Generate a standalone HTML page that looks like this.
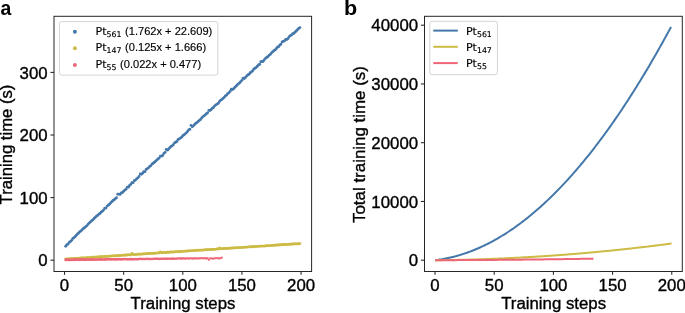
<!DOCTYPE html>
<html><head><meta charset="utf-8"><title>Training time</title>
<style>html,body{margin:0;padding:0;background:#fff;}svg{display:block;}</style>
</head><body>
<svg width="685" height="313" viewBox="0 0 685 313">
<rect width="685" height="313" fill="#fff"/>
<text x="0.6" y="14.6" font-family="Liberation Sans, Arial, Helvetica, sans-serif" font-size="19.4" font-weight="bold" fill="#000">a</text>
<text transform="translate(344,14.6) scale(1.08,1)" font-family="Liberation Sans, Arial, Helvetica, sans-serif" font-size="20" font-weight="bold" fill="#000">b</text>
<g fill="#4477AA"><circle cx="65.71" cy="246.22" r="1.42"/><circle cx="66.89" cy="244.69" r="1.42"/><circle cx="68.07" cy="244.10" r="1.42"/><circle cx="69.26" cy="242.36" r="1.42"/><circle cx="70.44" cy="241.51" r="1.42"/><circle cx="71.62" cy="240.30" r="1.42"/><circle cx="72.81" cy="238.49" r="1.42"/><circle cx="73.99" cy="237.78" r="1.42"/><circle cx="75.17" cy="236.63" r="1.42"/><circle cx="76.35" cy="235.21" r="1.42"/><circle cx="77.54" cy="233.90" r="1.42"/><circle cx="78.72" cy="233.02" r="1.42"/><circle cx="79.90" cy="231.64" r="1.42"/><circle cx="81.08" cy="230.88" r="1.42"/><circle cx="82.27" cy="229.60" r="1.42"/><circle cx="83.45" cy="228.52" r="1.42"/><circle cx="84.63" cy="227.67" r="1.42"/><circle cx="85.82" cy="226.62" r="1.42"/><circle cx="87.00" cy="225.55" r="1.42"/><circle cx="88.18" cy="224.05" r="1.42"/><circle cx="89.36" cy="222.93" r="1.42"/><circle cx="90.55" cy="221.87" r="1.42"/><circle cx="91.73" cy="220.66" r="1.42"/><circle cx="92.91" cy="219.95" r="1.42"/><circle cx="94.09" cy="218.49" r="1.42"/><circle cx="95.28" cy="217.30" r="1.42"/><circle cx="96.46" cy="216.05" r="1.42"/><circle cx="97.64" cy="215.40" r="1.42"/><circle cx="98.83" cy="214.17" r="1.42"/><circle cx="100.01" cy="213.52" r="1.42"/><circle cx="101.19" cy="212.00" r="1.42"/><circle cx="102.37" cy="211.37" r="1.42"/><circle cx="103.56" cy="210.05" r="1.42"/><circle cx="104.74" cy="208.23" r="1.42"/><circle cx="105.92" cy="208.06" r="1.42"/><circle cx="107.10" cy="206.11" r="1.42"/><circle cx="108.29" cy="205.14" r="1.42"/><circle cx="109.47" cy="204.22" r="1.42"/><circle cx="110.65" cy="202.90" r="1.42"/><circle cx="111.84" cy="201.78" r="1.42"/><circle cx="113.02" cy="200.53" r="1.42"/><circle cx="114.20" cy="199.79" r="1.42"/><circle cx="115.38" cy="198.78" r="1.42"/><circle cx="116.57" cy="197.68" r="1.42"/><circle cx="117.75" cy="194.19" r="1.42"/><circle cx="118.93" cy="194.07" r="1.42"/><circle cx="120.11" cy="194.43" r="1.42"/><circle cx="121.30" cy="192.80" r="1.42"/><circle cx="122.48" cy="192.53" r="1.42"/><circle cx="123.66" cy="191.20" r="1.42"/><circle cx="124.85" cy="190.06" r="1.42"/><circle cx="126.03" cy="189.28" r="1.42"/><circle cx="127.21" cy="187.05" r="1.42"/><circle cx="128.39" cy="187.16" r="1.42"/><circle cx="129.58" cy="185.46" r="1.42"/><circle cx="130.76" cy="184.43" r="1.42"/><circle cx="131.94" cy="182.71" r="1.42"/><circle cx="133.13" cy="182.63" r="1.42"/><circle cx="134.31" cy="180.67" r="1.42"/><circle cx="135.49" cy="180.07" r="1.42"/><circle cx="136.67" cy="178.81" r="1.42"/><circle cx="137.86" cy="177.85" r="1.42"/><circle cx="139.04" cy="176.38" r="1.42"/><circle cx="140.22" cy="173.90" r="1.42"/><circle cx="141.40" cy="174.37" r="1.42"/><circle cx="142.59" cy="173.15" r="1.42"/><circle cx="143.77" cy="171.63" r="1.42"/><circle cx="144.95" cy="171.72" r="1.42"/><circle cx="146.14" cy="169.51" r="1.42"/><circle cx="147.32" cy="168.57" r="1.42"/><circle cx="148.50" cy="167.87" r="1.42"/><circle cx="149.68" cy="166.54" r="1.42"/><circle cx="150.87" cy="165.66" r="1.42"/><circle cx="152.05" cy="163.96" r="1.42"/><circle cx="153.23" cy="163.26" r="1.42"/><circle cx="154.41" cy="162.28" r="1.42"/><circle cx="155.60" cy="161.18" r="1.42"/><circle cx="156.78" cy="160.07" r="1.42"/><circle cx="157.96" cy="158.96" r="1.42"/><circle cx="159.15" cy="158.05" r="1.42"/><circle cx="160.33" cy="156.12" r="1.42"/><circle cx="161.51" cy="156.14" r="1.42"/><circle cx="162.69" cy="155.51" r="1.42"/><circle cx="163.88" cy="153.43" r="1.42"/><circle cx="165.06" cy="152.33" r="1.42"/><circle cx="166.24" cy="149.52" r="1.42"/><circle cx="167.42" cy="150.14" r="1.42"/><circle cx="168.61" cy="149.02" r="1.42"/><circle cx="169.79" cy="147.79" r="1.42"/><circle cx="170.97" cy="146.50" r="1.42"/><circle cx="172.16" cy="145.80" r="1.42"/><circle cx="173.34" cy="144.67" r="1.42"/><circle cx="174.52" cy="142.92" r="1.42"/><circle cx="175.70" cy="142.21" r="1.42"/><circle cx="176.89" cy="141.54" r="1.42"/><circle cx="178.07" cy="139.50" r="1.42"/><circle cx="179.25" cy="138.84" r="1.42"/><circle cx="180.43" cy="138.12" r="1.42"/><circle cx="181.62" cy="137.18" r="1.42"/><circle cx="182.80" cy="135.66" r="1.42"/><circle cx="183.98" cy="134.88" r="1.42"/><circle cx="185.17" cy="133.84" r="1.42"/><circle cx="186.35" cy="132.80" r="1.42"/><circle cx="187.53" cy="131.48" r="1.42"/><circle cx="188.71" cy="129.92" r="1.42"/><circle cx="189.90" cy="129.25" r="1.42"/><circle cx="191.08" cy="125.30" r="1.42"/><circle cx="192.26" cy="126.73" r="1.42"/><circle cx="193.44" cy="125.80" r="1.42"/><circle cx="194.63" cy="124.48" r="1.42"/><circle cx="195.81" cy="123.27" r="1.42"/><circle cx="196.99" cy="122.56" r="1.42"/><circle cx="198.18" cy="121.45" r="1.42"/><circle cx="199.36" cy="120.32" r="1.42"/><circle cx="200.54" cy="119.52" r="1.42"/><circle cx="201.72" cy="117.91" r="1.42"/><circle cx="202.91" cy="116.61" r="1.42"/><circle cx="204.09" cy="115.84" r="1.42"/><circle cx="205.27" cy="114.86" r="1.42"/><circle cx="206.45" cy="113.76" r="1.42"/><circle cx="207.64" cy="112.80" r="1.42"/><circle cx="208.82" cy="110.45" r="1.42"/><circle cx="210.00" cy="110.49" r="1.42"/><circle cx="211.19" cy="109.51" r="1.42"/><circle cx="212.37" cy="108.29" r="1.42"/><circle cx="213.55" cy="107.51" r="1.42"/><circle cx="214.73" cy="105.87" r="1.42"/><circle cx="215.92" cy="104.85" r="1.42"/><circle cx="217.10" cy="104.08" r="1.42"/><circle cx="218.28" cy="103.30" r="1.42"/><circle cx="219.46" cy="101.55" r="1.42"/><circle cx="220.65" cy="100.14" r="1.42"/><circle cx="221.83" cy="99.55" r="1.42"/><circle cx="223.01" cy="98.38" r="1.42"/><circle cx="224.20" cy="97.30" r="1.42"/><circle cx="225.38" cy="95.85" r="1.42"/><circle cx="226.56" cy="95.19" r="1.42"/><circle cx="227.74" cy="93.55" r="1.42"/><circle cx="228.93" cy="92.81" r="1.42"/><circle cx="230.11" cy="91.36" r="1.42"/><circle cx="231.29" cy="89.26" r="1.42"/><circle cx="232.47" cy="89.48" r="1.42"/><circle cx="233.66" cy="88.73" r="1.42"/><circle cx="234.84" cy="87.41" r="1.42"/><circle cx="236.02" cy="86.18" r="1.42"/><circle cx="237.21" cy="84.82" r="1.42"/><circle cx="238.39" cy="83.83" r="1.42"/><circle cx="239.57" cy="83.00" r="1.42"/><circle cx="240.75" cy="81.58" r="1.42"/><circle cx="241.94" cy="80.32" r="1.42"/><circle cx="243.12" cy="78.28" r="1.42"/><circle cx="244.30" cy="78.51" r="1.42"/><circle cx="245.49" cy="77.40" r="1.42"/><circle cx="246.67" cy="75.95" r="1.42"/><circle cx="247.85" cy="74.93" r="1.42"/><circle cx="249.03" cy="74.24" r="1.42"/><circle cx="250.22" cy="72.77" r="1.42"/><circle cx="251.40" cy="71.91" r="1.42"/><circle cx="252.58" cy="70.88" r="1.42"/><circle cx="253.76" cy="69.22" r="1.42"/><circle cx="254.95" cy="68.23" r="1.42"/><circle cx="256.13" cy="67.56" r="1.42"/><circle cx="257.31" cy="66.23" r="1.42"/><circle cx="258.50" cy="65.01" r="1.42"/><circle cx="259.68" cy="64.23" r="1.42"/><circle cx="260.86" cy="61.73" r="1.42"/><circle cx="262.04" cy="61.66" r="1.42"/><circle cx="263.23" cy="61.24" r="1.42"/><circle cx="264.41" cy="59.55" r="1.42"/><circle cx="265.59" cy="58.33" r="1.42"/><circle cx="266.77" cy="57.29" r="1.42"/><circle cx="267.96" cy="56.71" r="1.42"/><circle cx="269.14" cy="55.14" r="1.42"/><circle cx="270.32" cy="54.37" r="1.42"/><circle cx="271.51" cy="52.86" r="1.42"/><circle cx="272.69" cy="51.75" r="1.42"/><circle cx="273.87" cy="50.75" r="1.42"/><circle cx="275.05" cy="49.93" r="1.42"/><circle cx="276.24" cy="48.77" r="1.42"/><circle cx="277.42" cy="47.26" r="1.42"/><circle cx="278.60" cy="46.65" r="1.42"/><circle cx="279.78" cy="45.16" r="1.42"/><circle cx="280.97" cy="44.05" r="1.42"/><circle cx="282.15" cy="41.92" r="1.42"/><circle cx="283.33" cy="41.31" r="1.42"/><circle cx="284.52" cy="40.94" r="1.42"/><circle cx="285.70" cy="39.33" r="1.42"/><circle cx="286.88" cy="39.47" r="1.42"/><circle cx="288.06" cy="38.51" r="1.42"/><circle cx="289.25" cy="36.57" r="1.42"/><circle cx="290.43" cy="35.64" r="1.42"/><circle cx="291.61" cy="34.88" r="1.42"/><circle cx="292.79" cy="33.78" r="1.42"/><circle cx="293.98" cy="33.27" r="1.42"/><circle cx="295.16" cy="31.89" r="1.42"/><circle cx="296.34" cy="30.97" r="1.42"/><circle cx="297.53" cy="29.72" r="1.42"/><circle cx="298.71" cy="28.38" r="1.42"/><circle cx="299.89" cy="27.58" r="1.42"/></g>
<g fill="#CCBB44"><circle cx="65.71" cy="259.06" r="1.42"/><circle cx="66.89" cy="259.04" r="1.42"/><circle cx="68.07" cy="258.95" r="1.42"/><circle cx="69.26" cy="258.84" r="1.42"/><circle cx="70.44" cy="258.78" r="1.42"/><circle cx="71.62" cy="258.61" r="1.42"/><circle cx="72.81" cy="258.66" r="1.42"/><circle cx="73.99" cy="258.41" r="1.42"/><circle cx="75.17" cy="258.51" r="1.42"/><circle cx="76.35" cy="258.31" r="1.42"/><circle cx="77.54" cy="258.34" r="1.42"/><circle cx="78.72" cy="258.11" r="1.42"/><circle cx="79.90" cy="258.13" r="1.42"/><circle cx="81.08" cy="258.04" r="1.42"/><circle cx="82.27" cy="257.94" r="1.42"/><circle cx="83.45" cy="257.94" r="1.42"/><circle cx="84.63" cy="257.89" r="1.42"/><circle cx="85.82" cy="257.88" r="1.42"/><circle cx="87.00" cy="257.59" r="1.42"/><circle cx="88.18" cy="257.64" r="1.42"/><circle cx="89.36" cy="257.55" r="1.42"/><circle cx="90.55" cy="257.44" r="1.42"/><circle cx="91.73" cy="257.23" r="1.42"/><circle cx="92.91" cy="257.39" r="1.42"/><circle cx="94.09" cy="257.19" r="1.42"/><circle cx="95.28" cy="257.15" r="1.42"/><circle cx="96.46" cy="257.01" r="1.42"/><circle cx="97.64" cy="257.08" r="1.42"/><circle cx="98.83" cy="256.91" r="1.42"/><circle cx="100.01" cy="256.76" r="1.42"/><circle cx="101.19" cy="256.63" r="1.42"/><circle cx="102.37" cy="256.55" r="1.42"/><circle cx="103.56" cy="256.63" r="1.42"/><circle cx="104.74" cy="256.49" r="1.42"/><circle cx="105.92" cy="256.43" r="1.42"/><circle cx="107.10" cy="256.43" r="1.42"/><circle cx="108.29" cy="256.35" r="1.42"/><circle cx="109.47" cy="256.14" r="1.42"/><circle cx="110.65" cy="256.09" r="1.42"/><circle cx="111.84" cy="256.04" r="1.42"/><circle cx="113.02" cy="255.87" r="1.42"/><circle cx="114.20" cy="255.93" r="1.42"/><circle cx="115.38" cy="255.76" r="1.42"/><circle cx="116.57" cy="255.71" r="1.42"/><circle cx="117.75" cy="255.64" r="1.42"/><circle cx="118.93" cy="255.53" r="1.42"/><circle cx="120.11" cy="255.47" r="1.42"/><circle cx="121.30" cy="255.38" r="1.42"/><circle cx="122.48" cy="255.31" r="1.42"/><circle cx="123.66" cy="255.12" r="1.42"/><circle cx="124.85" cy="255.19" r="1.42"/><circle cx="126.03" cy="255.02" r="1.42"/><circle cx="127.21" cy="254.97" r="1.42"/><circle cx="128.39" cy="254.95" r="1.42"/><circle cx="129.58" cy="254.80" r="1.42"/><circle cx="130.76" cy="254.83" r="1.42"/><circle cx="131.94" cy="253.37" r="1.42"/><circle cx="133.13" cy="254.67" r="1.42"/><circle cx="134.31" cy="254.57" r="1.42"/><circle cx="135.49" cy="254.44" r="1.42"/><circle cx="136.67" cy="254.33" r="1.42"/><circle cx="137.86" cy="254.25" r="1.42"/><circle cx="139.04" cy="254.17" r="1.42"/><circle cx="140.22" cy="254.16" r="1.42"/><circle cx="141.40" cy="254.13" r="1.42"/><circle cx="142.59" cy="253.96" r="1.42"/><circle cx="143.77" cy="253.90" r="1.42"/><circle cx="144.95" cy="253.90" r="1.42"/><circle cx="146.14" cy="253.70" r="1.42"/><circle cx="147.32" cy="253.67" r="1.42"/><circle cx="148.50" cy="253.66" r="1.42"/><circle cx="149.68" cy="253.50" r="1.42"/><circle cx="150.87" cy="253.53" r="1.42"/><circle cx="152.05" cy="253.42" r="1.42"/><circle cx="153.23" cy="253.26" r="1.42"/><circle cx="154.41" cy="253.31" r="1.42"/><circle cx="155.60" cy="253.13" r="1.42"/><circle cx="156.78" cy="253.14" r="1.42"/><circle cx="157.96" cy="252.93" r="1.42"/><circle cx="159.15" cy="252.94" r="1.42"/><circle cx="160.33" cy="251.87" r="1.42"/><circle cx="161.51" cy="252.83" r="1.42"/><circle cx="162.69" cy="252.68" r="1.42"/><circle cx="163.88" cy="252.52" r="1.42"/><circle cx="165.06" cy="252.48" r="1.42"/><circle cx="166.24" cy="252.54" r="1.42"/><circle cx="167.42" cy="252.29" r="1.42"/><circle cx="168.61" cy="252.22" r="1.42"/><circle cx="169.79" cy="252.22" r="1.42"/><circle cx="170.97" cy="252.03" r="1.42"/><circle cx="172.16" cy="252.10" r="1.42"/><circle cx="173.34" cy="251.96" r="1.42"/><circle cx="174.52" cy="251.81" r="1.42"/><circle cx="175.70" cy="251.72" r="1.42"/><circle cx="176.89" cy="251.64" r="1.42"/><circle cx="178.07" cy="251.71" r="1.42"/><circle cx="179.25" cy="251.68" r="1.42"/><circle cx="180.43" cy="251.46" r="1.42"/><circle cx="181.62" cy="251.50" r="1.42"/><circle cx="182.80" cy="251.34" r="1.42"/><circle cx="183.98" cy="251.33" r="1.42"/><circle cx="185.17" cy="251.11" r="1.42"/><circle cx="186.35" cy="251.05" r="1.42"/><circle cx="187.53" cy="250.98" r="1.42"/><circle cx="188.71" cy="250.94" r="1.42"/><circle cx="189.90" cy="250.86" r="1.42"/><circle cx="191.08" cy="250.80" r="1.42"/><circle cx="192.26" cy="250.68" r="1.42"/><circle cx="193.44" cy="250.61" r="1.42"/><circle cx="194.63" cy="250.52" r="1.42"/><circle cx="195.81" cy="250.50" r="1.42"/><circle cx="196.99" cy="250.27" r="1.42"/><circle cx="198.18" cy="250.30" r="1.42"/><circle cx="199.36" cy="250.15" r="1.42"/><circle cx="200.54" cy="250.08" r="1.42"/><circle cx="201.72" cy="250.14" r="1.42"/><circle cx="202.91" cy="250.11" r="1.42"/><circle cx="204.09" cy="249.84" r="1.42"/><circle cx="205.27" cy="249.87" r="1.42"/><circle cx="206.45" cy="249.76" r="1.42"/><circle cx="207.64" cy="249.71" r="1.42"/><circle cx="208.82" cy="249.60" r="1.42"/><circle cx="210.00" cy="249.61" r="1.42"/><circle cx="211.19" cy="249.46" r="1.42"/><circle cx="212.37" cy="249.40" r="1.42"/><circle cx="213.55" cy="249.30" r="1.42"/><circle cx="214.73" cy="249.37" r="1.42"/><circle cx="215.92" cy="249.09" r="1.42"/><circle cx="217.10" cy="249.04" r="1.42"/><circle cx="218.28" cy="249.09" r="1.42"/><circle cx="219.46" cy="248.01" r="1.42"/><circle cx="220.65" cy="248.83" r="1.42"/><circle cx="221.83" cy="248.71" r="1.42"/><circle cx="223.01" cy="248.67" r="1.42"/><circle cx="224.20" cy="248.51" r="1.42"/><circle cx="225.38" cy="248.51" r="1.42"/><circle cx="226.56" cy="248.50" r="1.42"/><circle cx="227.74" cy="248.40" r="1.42"/><circle cx="228.93" cy="248.23" r="1.42"/><circle cx="230.11" cy="248.24" r="1.42"/><circle cx="231.29" cy="248.07" r="1.42"/><circle cx="232.47" cy="247.98" r="1.42"/><circle cx="233.66" cy="247.93" r="1.42"/><circle cx="234.84" cy="247.83" r="1.42"/><circle cx="236.02" cy="247.82" r="1.42"/><circle cx="237.21" cy="247.73" r="1.42"/><circle cx="238.39" cy="247.69" r="1.42"/><circle cx="239.57" cy="247.61" r="1.42"/><circle cx="240.75" cy="247.60" r="1.42"/><circle cx="241.94" cy="247.45" r="1.42"/><circle cx="243.12" cy="247.41" r="1.42"/><circle cx="244.30" cy="247.35" r="1.42"/><circle cx="245.49" cy="247.18" r="1.42"/><circle cx="246.67" cy="247.08" r="1.42"/><circle cx="247.85" cy="247.05" r="1.42"/><circle cx="249.03" cy="246.86" r="1.42"/><circle cx="250.22" cy="246.81" r="1.42"/><circle cx="251.40" cy="246.73" r="1.42"/><circle cx="252.58" cy="246.75" r="1.42"/><circle cx="253.76" cy="246.73" r="1.42"/><circle cx="254.95" cy="246.52" r="1.42"/><circle cx="256.13" cy="246.46" r="1.42"/><circle cx="257.31" cy="246.36" r="1.42"/><circle cx="258.50" cy="246.30" r="1.42"/><circle cx="259.68" cy="246.17" r="1.42"/><circle cx="260.86" cy="246.19" r="1.42"/><circle cx="262.04" cy="246.05" r="1.42"/><circle cx="263.23" cy="246.07" r="1.42"/><circle cx="264.41" cy="246.08" r="1.42"/><circle cx="265.59" cy="245.88" r="1.42"/><circle cx="266.77" cy="245.68" r="1.42"/><circle cx="267.96" cy="245.80" r="1.42"/><circle cx="269.14" cy="245.56" r="1.42"/><circle cx="270.32" cy="245.58" r="1.42"/><circle cx="271.51" cy="245.49" r="1.42"/><circle cx="272.69" cy="245.38" r="1.42"/><circle cx="273.87" cy="245.29" r="1.42"/><circle cx="275.05" cy="245.29" r="1.42"/><circle cx="276.24" cy="245.14" r="1.42"/><circle cx="277.42" cy="245.04" r="1.42"/><circle cx="278.60" cy="244.94" r="1.42"/><circle cx="279.78" cy="244.96" r="1.42"/><circle cx="280.97" cy="244.74" r="1.42"/><circle cx="282.15" cy="244.64" r="1.42"/><circle cx="283.33" cy="244.53" r="1.42"/><circle cx="284.52" cy="244.69" r="1.42"/><circle cx="285.70" cy="244.51" r="1.42"/><circle cx="286.88" cy="244.56" r="1.42"/><circle cx="288.06" cy="244.34" r="1.42"/><circle cx="289.25" cy="244.25" r="1.42"/><circle cx="290.43" cy="244.28" r="1.42"/><circle cx="291.61" cy="244.23" r="1.42"/><circle cx="292.79" cy="244.04" r="1.42"/><circle cx="293.98" cy="243.94" r="1.42"/><circle cx="295.16" cy="243.95" r="1.42"/><circle cx="296.34" cy="243.84" r="1.42"/><circle cx="297.53" cy="243.90" r="1.42"/><circle cx="298.71" cy="243.71" r="1.42"/><circle cx="299.89" cy="243.58" r="1.42"/></g>
<g fill="#EE6677"><circle cx="65.71" cy="259.88" r="1.42"/><circle cx="66.89" cy="259.79" r="1.42"/><circle cx="68.07" cy="259.92" r="1.41"/><circle cx="69.26" cy="259.96" r="1.41"/><circle cx="70.44" cy="259.81" r="1.41"/><circle cx="71.62" cy="259.85" r="1.41"/><circle cx="72.81" cy="259.79" r="1.40"/><circle cx="73.99" cy="259.75" r="1.40"/><circle cx="75.17" cy="259.75" r="1.40"/><circle cx="76.35" cy="259.69" r="1.40"/><circle cx="77.54" cy="259.68" r="1.39"/><circle cx="78.72" cy="259.82" r="1.39"/><circle cx="79.90" cy="259.73" r="1.39"/><circle cx="81.08" cy="259.60" r="1.38"/><circle cx="82.27" cy="259.72" r="1.38"/><circle cx="83.45" cy="259.63" r="1.38"/><circle cx="84.63" cy="259.67" r="1.38"/><circle cx="85.82" cy="259.68" r="1.37"/><circle cx="87.00" cy="259.55" r="1.37"/><circle cx="88.18" cy="259.57" r="1.37"/><circle cx="89.36" cy="259.63" r="1.37"/><circle cx="90.55" cy="259.55" r="1.36"/><circle cx="91.73" cy="259.66" r="1.36"/><circle cx="92.91" cy="259.61" r="1.36"/><circle cx="94.09" cy="259.51" r="1.35"/><circle cx="95.28" cy="259.54" r="1.35"/><circle cx="96.46" cy="259.59" r="1.35"/><circle cx="97.64" cy="259.49" r="1.35"/><circle cx="98.83" cy="259.48" r="1.34"/><circle cx="100.01" cy="259.41" r="1.34"/><circle cx="101.19" cy="259.42" r="1.34"/><circle cx="102.37" cy="259.48" r="1.34"/><circle cx="103.56" cy="259.48" r="1.33"/><circle cx="104.74" cy="259.44" r="1.33"/><circle cx="105.92" cy="259.43" r="1.33"/><circle cx="107.10" cy="259.31" r="1.32"/><circle cx="108.29" cy="259.29" r="1.32"/><circle cx="109.47" cy="259.29" r="1.32"/><circle cx="110.65" cy="259.34" r="1.32"/><circle cx="111.84" cy="259.37" r="1.31"/><circle cx="113.02" cy="259.28" r="1.31"/><circle cx="114.20" cy="259.35" r="1.31"/><circle cx="115.38" cy="259.29" r="1.31"/><circle cx="116.57" cy="259.41" r="1.30"/><circle cx="117.75" cy="259.31" r="1.30"/><circle cx="118.93" cy="259.16" r="1.30"/><circle cx="120.11" cy="259.33" r="1.29"/><circle cx="121.30" cy="259.35" r="1.29"/><circle cx="122.48" cy="259.24" r="1.29"/><circle cx="123.66" cy="259.09" r="1.29"/><circle cx="124.85" cy="259.09" r="1.28"/><circle cx="126.03" cy="259.21" r="1.28"/><circle cx="127.21" cy="259.21" r="1.28"/><circle cx="128.39" cy="259.17" r="1.28"/><circle cx="129.58" cy="259.22" r="1.27"/><circle cx="130.76" cy="259.13" r="1.27"/><circle cx="131.94" cy="259.14" r="1.27"/><circle cx="133.13" cy="259.23" r="1.26"/><circle cx="134.31" cy="259.14" r="1.26"/><circle cx="135.49" cy="259.10" r="1.26"/><circle cx="136.67" cy="259.14" r="1.26"/><circle cx="137.86" cy="259.15" r="1.25"/><circle cx="139.04" cy="258.95" r="1.25"/><circle cx="140.22" cy="258.84" r="1.25"/><circle cx="141.40" cy="259.03" r="1.25"/><circle cx="142.59" cy="259.03" r="1.24"/><circle cx="143.77" cy="258.93" r="1.24"/><circle cx="144.95" cy="258.99" r="1.24"/><circle cx="146.14" cy="259.03" r="1.23"/><circle cx="147.32" cy="258.80" r="1.23"/><circle cx="148.50" cy="259.03" r="1.23"/><circle cx="149.68" cy="258.99" r="1.23"/><circle cx="150.87" cy="258.97" r="1.22"/><circle cx="152.05" cy="258.98" r="1.22"/><circle cx="153.23" cy="258.89" r="1.22"/><circle cx="154.41" cy="258.79" r="1.22"/><circle cx="155.60" cy="258.68" r="1.21"/><circle cx="156.78" cy="258.75" r="1.21"/><circle cx="157.96" cy="258.81" r="1.21"/><circle cx="159.15" cy="258.95" r="1.20"/><circle cx="160.33" cy="258.79" r="1.20"/><circle cx="161.51" cy="258.89" r="1.20"/><circle cx="162.69" cy="258.77" r="1.20"/><circle cx="163.88" cy="258.62" r="1.19"/><circle cx="165.06" cy="258.71" r="1.19"/><circle cx="166.24" cy="258.74" r="1.19"/><circle cx="167.42" cy="258.80" r="1.19"/><circle cx="168.61" cy="258.69" r="1.18"/><circle cx="169.79" cy="258.66" r="1.18"/><circle cx="170.97" cy="258.79" r="1.18"/><circle cx="172.16" cy="258.72" r="1.17"/><circle cx="173.34" cy="258.51" r="1.17"/><circle cx="174.52" cy="258.86" r="1.17"/><circle cx="175.70" cy="258.67" r="1.17"/><circle cx="176.89" cy="258.76" r="1.16"/><circle cx="178.07" cy="258.35" r="1.16"/><circle cx="179.25" cy="258.48" r="1.16"/><circle cx="180.43" cy="258.47" r="1.16"/><circle cx="181.62" cy="258.48" r="1.15"/><circle cx="182.80" cy="258.48" r="1.15"/><circle cx="183.98" cy="258.46" r="1.15"/><circle cx="185.17" cy="258.75" r="1.14"/><circle cx="186.35" cy="258.44" r="1.14"/><circle cx="187.53" cy="258.37" r="1.14"/><circle cx="188.71" cy="258.69" r="1.14"/><circle cx="189.90" cy="258.30" r="1.13"/><circle cx="191.08" cy="258.31" r="1.13"/><circle cx="192.26" cy="258.68" r="1.13"/><circle cx="193.44" cy="258.48" r="1.13"/><circle cx="194.63" cy="258.44" r="1.12"/><circle cx="195.81" cy="258.47" r="1.12"/><circle cx="196.99" cy="258.29" r="1.12"/><circle cx="198.18" cy="258.58" r="1.11"/><circle cx="199.36" cy="258.37" r="1.11"/><circle cx="200.54" cy="258.27" r="1.11"/><circle cx="201.72" cy="258.16" r="1.11"/><circle cx="202.91" cy="258.28" r="1.10"/><circle cx="204.09" cy="258.32" r="1.10"/><circle cx="205.27" cy="258.12" r="1.10"/><circle cx="206.45" cy="258.65" r="1.10"/><circle cx="207.64" cy="258.04" r="1.09"/><circle cx="208.82" cy="259.85" r="1.09"/><circle cx="210.00" cy="258.47" r="1.09"/><circle cx="211.19" cy="258.29" r="1.08"/><circle cx="212.37" cy="258.58" r="1.08"/><circle cx="213.55" cy="258.61" r="1.08"/><circle cx="214.73" cy="258.22" r="1.08"/><circle cx="215.92" cy="258.31" r="1.07"/><circle cx="217.10" cy="257.96" r="1.07"/><circle cx="218.28" cy="258.31" r="1.07"/><circle cx="219.46" cy="258.40" r="1.07"/><circle cx="220.65" cy="258.31" r="1.06"/><circle cx="221.83" cy="257.66" r="1.06"/></g>
<path d="M436.22,260.06 L437.40,259.90 L438.59,259.74 L439.77,259.57 L440.95,259.38 L442.14,259.19 L443.32,258.98 L444.50,258.76 L445.69,258.54 L446.87,258.30 L448.05,258.06 L449.24,257.80 L450.42,257.53 L451.61,257.25 L452.79,256.97 L453.97,256.67 L455.16,256.36 L456.34,256.04 L457.52,255.71 L458.71,255.37 L459.89,255.02 L461.07,254.66 L462.26,254.29 L463.44,253.91 L464.63,253.51 L465.81,253.11 L466.99,252.70 L468.18,252.28 L469.36,251.84 L470.54,251.40 L471.73,250.95 L472.91,250.48 L474.10,250.01 L475.28,249.52 L476.46,249.03 L477.65,248.52 L478.83,248.01 L480.01,247.48 L481.20,246.95 L482.38,246.40 L483.56,245.84 L484.75,245.27 L485.93,244.70 L487.12,244.11 L488.30,243.51 L489.48,242.90 L490.67,242.28 L491.85,241.65 L493.03,241.01 L494.22,240.36 L495.40,239.70 L496.58,239.03 L497.77,238.35 L498.95,237.65 L500.14,236.95 L501.32,236.24 L502.50,235.52 L503.69,234.78 L504.87,234.04 L506.05,233.29 L507.24,232.52 L508.42,231.75 L509.60,230.96 L510.79,230.17 L511.97,229.36 L513.16,228.55 L514.34,227.72 L515.52,226.88 L516.71,226.04 L517.89,225.18 L519.07,224.31 L520.26,223.43 L521.44,222.54 L522.62,221.64 L523.81,220.74 L524.99,219.82 L526.18,218.89 L527.36,217.95 L528.54,217.00 L529.73,216.03 L530.91,215.06 L532.09,214.08 L533.28,213.09 L534.46,212.09 L535.65,211.07 L536.83,210.05 L538.01,209.02 L539.20,207.97 L540.38,206.92 L541.56,205.86 L542.75,204.78 L543.93,203.70 L545.11,202.60 L546.30,201.49 L547.48,200.38 L548.67,199.25 L549.85,198.11 L551.03,196.97 L552.22,195.81 L553.40,194.64 L554.58,193.46 L555.77,192.27 L556.95,191.07 L558.13,189.87 L559.32,188.65 L560.50,187.42 L561.69,186.18 L562.87,184.92 L564.05,183.66 L565.24,182.39 L566.42,181.11 L567.60,179.82 L568.79,178.51 L569.97,177.20 L571.15,175.88 L572.34,174.54 L573.52,173.20 L574.71,171.85 L575.89,170.48 L577.07,169.11 L578.26,167.72 L579.44,166.33 L580.62,164.92 L581.81,163.50 L582.99,162.08 L584.18,160.64 L585.36,159.19 L586.54,157.73 L587.73,156.27 L588.91,154.79 L590.09,153.30 L591.28,151.80 L592.46,150.29 L593.64,148.77 L594.83,147.24 L596.01,145.70 L597.20,144.15 L598.38,142.59 L599.56,141.01 L600.75,139.43 L601.93,137.84 L603.11,136.24 L604.30,134.62 L605.48,133.00 L606.66,131.37 L607.85,129.72 L609.03,128.07 L610.22,126.40 L611.40,124.73 L612.58,123.04 L613.77,121.35 L614.95,119.64 L616.13,117.92 L617.32,116.20 L618.50,114.46 L619.68,112.71 L620.87,110.95 L622.05,109.18 L623.24,107.41 L624.42,105.62 L625.60,103.82 L626.79,102.01 L627.97,100.19 L629.15,98.36 L630.34,96.52 L631.52,94.66 L632.70,92.80 L633.89,90.93 L635.07,89.05 L636.26,87.16 L637.44,85.25 L638.62,83.34 L639.81,81.42 L640.99,79.48 L642.17,77.54 L643.36,75.58 L644.54,73.62 L645.73,71.64 L646.91,69.66 L648.09,67.66 L649.28,65.65 L650.46,63.64 L651.64,61.61 L652.83,59.57 L654.01,57.52 L655.19,55.47 L656.38,53.40 L657.56,51.32 L658.75,49.23 L659.93,47.13 L661.11,45.02 L662.30,42.90 L663.48,40.77 L664.66,38.63 L665.85,36.48 L667.03,34.31 L668.21,32.14 L669.40,29.96 L670.58,27.77" fill="none" stroke="#4477AA" stroke-width="2.0" stroke-linecap="square"/>
<path d="M436.22,260.19 L437.40,260.18 L438.59,260.17 L439.77,260.15 L440.95,260.14 L442.14,260.13 L443.32,260.11 L444.50,260.10 L445.69,260.08 L446.87,260.06 L448.05,260.04 L449.24,260.03 L450.42,260.01 L451.61,259.99 L452.79,259.97 L453.97,259.94 L455.16,259.92 L456.34,259.90 L457.52,259.87 L458.71,259.85 L459.89,259.82 L461.07,259.80 L462.26,259.77 L463.44,259.74 L464.63,259.72 L465.81,259.69 L466.99,259.66 L468.18,259.63 L469.36,259.60 L470.54,259.56 L471.73,259.53 L472.91,259.50 L474.10,259.47 L475.28,259.43 L476.46,259.39 L477.65,259.36 L478.83,259.32 L480.01,259.28 L481.20,259.25 L482.38,259.21 L483.56,259.17 L484.75,259.13 L485.93,259.08 L487.12,259.04 L488.30,259.00 L489.48,258.96 L490.67,258.91 L491.85,258.87 L493.03,258.82 L494.22,258.77 L495.40,258.73 L496.58,258.68 L497.77,258.63 L498.95,258.58 L500.14,258.53 L501.32,258.48 L502.50,258.43 L503.69,258.38 L504.87,258.32 L506.05,258.27 L507.24,258.21 L508.42,258.16 L509.60,258.10 L510.79,258.05 L511.97,257.99 L513.16,257.93 L514.34,257.87 L515.52,257.81 L516.71,257.75 L517.89,257.69 L519.07,257.63 L520.26,257.57 L521.44,257.50 L522.62,257.44 L523.81,257.37 L524.99,257.31 L526.18,257.24 L527.36,257.17 L528.54,257.11 L529.73,257.04 L530.91,256.97 L532.09,256.90 L533.28,256.83 L534.46,256.76 L535.65,256.68 L536.83,256.61 L538.01,256.54 L539.20,256.46 L540.38,256.39 L541.56,256.31 L542.75,256.24 L543.93,256.16 L545.11,256.08 L546.30,256.00 L547.48,255.92 L548.67,255.84 L549.85,255.76 L551.03,255.68 L552.22,255.60 L553.40,255.51 L554.58,255.43 L555.77,255.34 L556.95,255.26 L558.13,255.17 L559.32,255.09 L560.50,255.00 L561.69,254.91 L562.87,254.82 L564.05,254.73 L565.24,254.64 L566.42,254.55 L567.60,254.46 L568.79,254.36 L569.97,254.27 L571.15,254.18 L572.34,254.08 L573.52,253.99 L574.71,253.89 L575.89,253.79 L577.07,253.69 L578.26,253.60 L579.44,253.50 L580.62,253.40 L581.81,253.29 L582.99,253.19 L584.18,253.09 L585.36,252.99 L586.54,252.88 L587.73,252.78 L588.91,252.67 L590.09,252.57 L591.28,252.46 L592.46,252.35 L593.64,252.25 L594.83,252.14 L596.01,252.03 L597.20,251.92 L598.38,251.81 L599.56,251.69 L600.75,251.58 L601.93,251.47 L603.11,251.35 L604.30,251.24 L605.48,251.12 L606.66,251.01 L607.85,250.89 L609.03,250.77 L610.22,250.65 L611.40,250.53 L612.58,250.42 L613.77,250.29 L614.95,250.17 L616.13,250.05 L617.32,249.93 L618.50,249.80 L619.68,249.68 L620.87,249.55 L622.05,249.43 L623.24,249.30 L624.42,249.18 L625.60,249.05 L626.79,248.92 L627.97,248.79 L629.15,248.66 L630.34,248.53 L631.52,248.40 L632.70,248.26 L633.89,248.13 L635.07,248.00 L636.26,247.86 L637.44,247.73 L638.62,247.59 L639.81,247.45 L640.99,247.32 L642.17,247.18 L643.36,247.04 L644.54,246.90 L645.73,246.76 L646.91,246.62 L648.09,246.48 L649.28,246.33 L650.46,246.19 L651.64,246.04 L652.83,245.90 L654.01,245.75 L655.19,245.61 L656.38,245.46 L657.56,245.31 L658.75,245.16 L659.93,245.02 L661.11,244.87 L662.30,244.71 L663.48,244.56 L664.66,244.41 L665.85,244.26 L667.03,244.10 L668.21,243.95 L669.40,243.79 L670.58,243.64" fill="none" stroke="#CCBB44" stroke-width="2.0" stroke-linecap="square"/>
<path d="M436.22,260.20 L437.40,260.19 L438.59,260.19 L439.77,260.19 L440.95,260.18 L442.14,260.18 L443.32,260.18 L444.50,260.17 L445.69,260.17 L446.87,260.16 L448.05,260.16 L449.24,260.16 L450.42,260.15 L451.61,260.15 L452.79,260.14 L453.97,260.14 L455.16,260.13 L456.34,260.13 L457.52,260.12 L458.71,260.12 L459.89,260.11 L461.07,260.11 L462.26,260.10 L463.44,260.09 L464.63,260.09 L465.81,260.08 L466.99,260.08 L468.18,260.07 L469.36,260.06 L470.54,260.06 L471.73,260.05 L472.91,260.04 L474.10,260.04 L475.28,260.03 L476.46,260.02 L477.65,260.01 L478.83,260.01 L480.01,260.00 L481.20,259.99 L482.38,259.98 L483.56,259.97 L484.75,259.97 L485.93,259.96 L487.12,259.95 L488.30,259.94 L489.48,259.93 L490.67,259.92 L491.85,259.91 L493.03,259.90 L494.22,259.90 L495.40,259.89 L496.58,259.88 L497.77,259.87 L498.95,259.86 L500.14,259.85 L501.32,259.84 L502.50,259.83 L503.69,259.82 L504.87,259.81 L506.05,259.80 L507.24,259.78 L508.42,259.77 L509.60,259.76 L510.79,259.75 L511.97,259.74 L513.16,259.73 L514.34,259.72 L515.52,259.71 L516.71,259.69 L517.89,259.68 L519.07,259.67 L520.26,259.66 L521.44,259.65 L522.62,259.63 L523.81,259.62 L524.99,259.61 L526.18,259.60 L527.36,259.58 L528.54,259.57 L529.73,259.56 L530.91,259.54 L532.09,259.53 L533.28,259.52 L534.46,259.50 L535.65,259.49 L536.83,259.48 L538.01,259.46 L539.20,259.45 L540.38,259.43 L541.56,259.42 L542.75,259.40 L543.93,259.39 L545.11,259.37 L546.30,259.36 L547.48,259.34 L548.67,259.33 L549.85,259.31 L551.03,259.30 L552.22,259.28 L553.40,259.27 L554.58,259.25 L555.77,259.24 L556.95,259.22 L558.13,259.20 L559.32,259.19 L560.50,259.17 L561.69,259.15 L562.87,259.14 L564.05,259.12 L565.24,259.10 L566.42,259.09 L567.60,259.07 L568.79,259.05 L569.97,259.03 L571.15,259.02 L572.34,259.00 L573.52,258.98 L574.71,258.96 L575.89,258.94 L577.07,258.93 L578.26,258.91 L579.44,258.89 L580.62,258.87 L581.81,258.85 L582.99,258.83 L584.18,258.81 L585.36,258.79 L586.54,258.77 L587.73,258.75 L588.91,258.74 L590.09,258.72 L591.28,258.70 L592.46,258.68" fill="none" stroke="#EE6677" stroke-width="2.0" stroke-linecap="square"/>
<rect x="54.0" y="16.3" width="257.6" height="255.2" fill="none" stroke="#262626" stroke-width="1.0"/>
<line x1="64.53" x2="64.53" y1="271.5" y2="274.8" stroke="#262626" stroke-width="1.07"/>
<text transform="translate(64.53,290.50) scale(1.045,1)" text-anchor="middle" font-family="Liberation Sans, Arial, Helvetica, sans-serif" font-size="16.1" fill="#000" stroke="#000" stroke-width="0.35" stroke-linejoin="round" >0</text>
<line x1="123.66" x2="123.66" y1="271.5" y2="274.8" stroke="#262626" stroke-width="1.07"/>
<text transform="translate(123.66,290.50) scale(1.045,1)" text-anchor="middle" font-family="Liberation Sans, Arial, Helvetica, sans-serif" font-size="16.1" fill="#000" stroke="#000" stroke-width="0.35" stroke-linejoin="round" >50</text>
<line x1="182.80" x2="182.80" y1="271.5" y2="274.8" stroke="#262626" stroke-width="1.07"/>
<text transform="translate(182.80,290.50) scale(1.045,1)" text-anchor="middle" font-family="Liberation Sans, Arial, Helvetica, sans-serif" font-size="16.1" fill="#000" stroke="#000" stroke-width="0.35" stroke-linejoin="round" >100</text>
<line x1="241.94" x2="241.94" y1="271.5" y2="274.8" stroke="#262626" stroke-width="1.07"/>
<text transform="translate(241.94,290.50) scale(1.045,1)" text-anchor="middle" font-family="Liberation Sans, Arial, Helvetica, sans-serif" font-size="16.1" fill="#000" stroke="#000" stroke-width="0.35" stroke-linejoin="round" >150</text>
<line x1="301.07" x2="301.07" y1="271.5" y2="274.8" stroke="#262626" stroke-width="1.07"/>
<text transform="translate(301.07,290.50) scale(1.045,1)" text-anchor="middle" font-family="Liberation Sans, Arial, Helvetica, sans-serif" font-size="16.1" fill="#000" stroke="#000" stroke-width="0.35" stroke-linejoin="round" >200</text>
<line x1="50.4" x2="54.0" y1="260.20" y2="260.20" stroke="#262626" stroke-width="1.07"/>
<text transform="translate(47.60,266.30) scale(1.045,1)" text-anchor="end" font-family="Liberation Sans, Arial, Helvetica, sans-serif" font-size="16.1" fill="#000" stroke="#000" stroke-width="0.35" stroke-linejoin="round" >0</text>
<line x1="50.4" x2="54.0" y1="197.60" y2="197.60" stroke="#262626" stroke-width="1.07"/>
<text transform="translate(47.60,203.70) scale(1.045,1)" text-anchor="end" font-family="Liberation Sans, Arial, Helvetica, sans-serif" font-size="16.1" fill="#000" stroke="#000" stroke-width="0.35" stroke-linejoin="round" >100</text>
<line x1="50.4" x2="54.0" y1="135.00" y2="135.00" stroke="#262626" stroke-width="1.07"/>
<text transform="translate(47.60,141.10) scale(1.045,1)" text-anchor="end" font-family="Liberation Sans, Arial, Helvetica, sans-serif" font-size="16.1" fill="#000" stroke="#000" stroke-width="0.35" stroke-linejoin="round" >200</text>
<line x1="50.4" x2="54.0" y1="72.40" y2="72.40" stroke="#262626" stroke-width="1.07"/>
<text transform="translate(47.60,78.50) scale(1.045,1)" text-anchor="end" font-family="Liberation Sans, Arial, Helvetica, sans-serif" font-size="16.1" fill="#000" stroke="#000" stroke-width="0.35" stroke-linejoin="round" >300</text>
<text transform="translate(183.00,309.20) scale(1.025,1)" text-anchor="middle" font-family="Liberation Sans, Arial, Helvetica, sans-serif" font-size="16.4" fill="#000" stroke="#000" stroke-width="0.35" stroke-linejoin="round" >Training steps</text>
<rect x="424.5" y="16.3" width="257.79999999999995" height="255.2" fill="none" stroke="#262626" stroke-width="1.0"/>
<line x1="435.03" x2="435.03" y1="271.5" y2="274.8" stroke="#262626" stroke-width="1.07"/>
<text transform="translate(435.03,290.50) scale(1.045,1)" text-anchor="middle" font-family="Liberation Sans, Arial, Helvetica, sans-serif" font-size="16.1" fill="#000" stroke="#000" stroke-width="0.35" stroke-linejoin="round" >0</text>
<line x1="494.22" x2="494.22" y1="271.5" y2="274.8" stroke="#262626" stroke-width="1.07"/>
<text transform="translate(494.22,290.50) scale(1.045,1)" text-anchor="middle" font-family="Liberation Sans, Arial, Helvetica, sans-serif" font-size="16.1" fill="#000" stroke="#000" stroke-width="0.35" stroke-linejoin="round" >50</text>
<line x1="553.40" x2="553.40" y1="271.5" y2="274.8" stroke="#262626" stroke-width="1.07"/>
<text transform="translate(553.40,290.50) scale(1.045,1)" text-anchor="middle" font-family="Liberation Sans, Arial, Helvetica, sans-serif" font-size="16.1" fill="#000" stroke="#000" stroke-width="0.35" stroke-linejoin="round" >100</text>
<line x1="612.58" x2="612.58" y1="271.5" y2="274.8" stroke="#262626" stroke-width="1.07"/>
<text transform="translate(612.58,290.50) scale(1.045,1)" text-anchor="middle" font-family="Liberation Sans, Arial, Helvetica, sans-serif" font-size="16.1" fill="#000" stroke="#000" stroke-width="0.35" stroke-linejoin="round" >150</text>
<line x1="671.77" x2="671.77" y1="271.5" y2="274.8" stroke="#262626" stroke-width="1.07"/>
<text transform="translate(671.77,290.50) scale(1.045,1)" text-anchor="middle" font-family="Liberation Sans, Arial, Helvetica, sans-serif" font-size="16.1" fill="#000" stroke="#000" stroke-width="0.35" stroke-linejoin="round" >200</text>
<line x1="420.9" x2="424.5" y1="260.20" y2="260.20" stroke="#262626" stroke-width="1.07"/>
<text transform="translate(418.10,266.30) scale(1.045,1)" text-anchor="end" font-family="Liberation Sans, Arial, Helvetica, sans-serif" font-size="16.1" fill="#000" stroke="#000" stroke-width="0.35" stroke-linejoin="round" >0</text>
<line x1="420.9" x2="424.5" y1="201.45" y2="201.45" stroke="#262626" stroke-width="1.07"/>
<text transform="translate(418.10,207.55) scale(1.045,1)" text-anchor="end" font-family="Liberation Sans, Arial, Helvetica, sans-serif" font-size="16.1" fill="#000" stroke="#000" stroke-width="0.35" stroke-linejoin="round" >10000</text>
<line x1="420.9" x2="424.5" y1="142.70" y2="142.70" stroke="#262626" stroke-width="1.07"/>
<text transform="translate(418.10,148.80) scale(1.045,1)" text-anchor="end" font-family="Liberation Sans, Arial, Helvetica, sans-serif" font-size="16.1" fill="#000" stroke="#000" stroke-width="0.35" stroke-linejoin="round" >20000</text>
<line x1="420.9" x2="424.5" y1="83.95" y2="83.95" stroke="#262626" stroke-width="1.07"/>
<text transform="translate(418.10,90.05) scale(1.045,1)" text-anchor="end" font-family="Liberation Sans, Arial, Helvetica, sans-serif" font-size="16.1" fill="#000" stroke="#000" stroke-width="0.35" stroke-linejoin="round" >30000</text>
<line x1="420.9" x2="424.5" y1="25.20" y2="25.20" stroke="#262626" stroke-width="1.07"/>
<text transform="translate(418.10,31.30) scale(1.045,1)" text-anchor="end" font-family="Liberation Sans, Arial, Helvetica, sans-serif" font-size="16.1" fill="#000" stroke="#000" stroke-width="0.35" stroke-linejoin="round" >40000</text>
<text transform="translate(553.60,309.20) scale(1.025,1)" text-anchor="middle" font-family="Liberation Sans, Arial, Helvetica, sans-serif" font-size="16.4" fill="#000" stroke="#000" stroke-width="0.35" stroke-linejoin="round" >Training steps</text>
<text transform="translate(12.40,144.50) rotate(-90) scale(1.006,1)" text-anchor="middle" font-family="Liberation Sans, Arial, Helvetica, sans-serif" font-size="16.6" fill="#000" stroke="#000" stroke-width="0.35" stroke-linejoin="round" >Training time (s)</text>
<text transform="translate(364.60,144.55) rotate(-90) scale(1.02,1)" text-anchor="middle" font-family="Liberation Sans, Arial, Helvetica, sans-serif" font-size="16.6" fill="#000" stroke="#000" stroke-width="0.35" stroke-linejoin="round" >Total training time (s)</text>
<rect x="59.4" y="21.6" width="158.4" height="53.5" rx="2.2" fill="#fff" fill-opacity="0.8" stroke="#d4d4d4" stroke-width="1.0"/>
<circle cx="74.9" cy="31.7" r="1.95" fill="#4477AA"/>
<text x="95.5" y="34.8" font-size="11.1" fill="#000" stroke="#000" stroke-width="0.15"><tspan font-family="DejaVu Sans, sans-serif">Pt</tspan><tspan font-family="DejaVu Sans, sans-serif" font-size="7.8" dy="1.8">561</tspan><tspan font-family="Liberation Sans, Arial, Helvetica, sans-serif" dy="-1.8" dx="0.5"> (1.762x + 22.609)</tspan></text>
<circle cx="74.9" cy="48.3" r="1.95" fill="#CCBB44"/>
<text x="95.5" y="51.4" font-size="11.1" fill="#000" stroke="#000" stroke-width="0.15"><tspan font-family="DejaVu Sans, sans-serif">Pt</tspan><tspan font-family="DejaVu Sans, sans-serif" font-size="7.8" dy="1.8">147</tspan><tspan font-family="Liberation Sans, Arial, Helvetica, sans-serif" dy="-1.8" dx="0.5"> (0.125x + 1.666)</tspan></text>
<circle cx="74.9" cy="65.0" r="1.95" fill="#EE6677"/>
<text x="95.5" y="68.1" font-size="11.1" fill="#000" stroke="#000" stroke-width="0.15"><tspan font-family="DejaVu Sans, sans-serif">Pt</tspan><tspan font-family="DejaVu Sans, sans-serif" font-size="7.8" dy="1.8">55</tspan><tspan font-family="Liberation Sans, Arial, Helvetica, sans-serif" dy="-1.8" dx="0.5"> (0.022x + 0.477)</tspan></text>
<rect x="429.8" y="21.3" width="67.6" height="53.4" rx="2.2" fill="#fff" fill-opacity="0.8" stroke="#d4d4d4" stroke-width="1.0"/>
<line x1="433.3" x2="457.8" y1="30.6" y2="30.6" stroke="#4477AA" stroke-width="2.0"/>
<text x="465.9" y="34.7" font-size="11.1" fill="#000" stroke="#000" stroke-width="0.15"><tspan font-family="DejaVu Sans, sans-serif">Pt</tspan><tspan font-family="DejaVu Sans, sans-serif" font-size="7.8" dy="1.8">561</tspan></text>
<line x1="433.3" x2="457.8" y1="46.8" y2="46.8" stroke="#CCBB44" stroke-width="2.0"/>
<text x="465.9" y="50.9" font-size="11.1" fill="#000" stroke="#000" stroke-width="0.15"><tspan font-family="DejaVu Sans, sans-serif">Pt</tspan><tspan font-family="DejaVu Sans, sans-serif" font-size="7.8" dy="1.8">147</tspan></text>
<line x1="433.3" x2="457.8" y1="63.1" y2="63.1" stroke="#EE6677" stroke-width="2.0"/>
<text x="465.9" y="67.2" font-size="11.1" fill="#000" stroke="#000" stroke-width="0.15"><tspan font-family="DejaVu Sans, sans-serif">Pt</tspan><tspan font-family="DejaVu Sans, sans-serif" font-size="7.8" dy="1.8">55</tspan></text>
</svg>
</body></html>
